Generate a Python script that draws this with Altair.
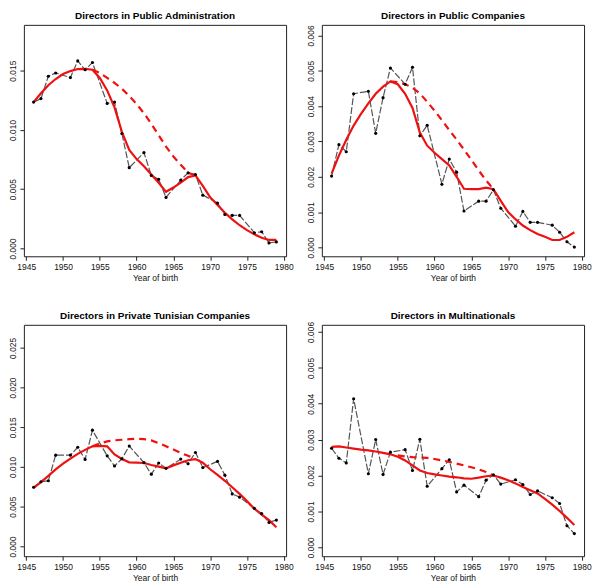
import altair as alt
import pandas as pd

# Observed years (multiples of 5 are absent in the source)
obs_years = [1946, 1947, 1948, 1949, 1951, 1952, 1953, 1954, 1956, 1957, 1958, 1959,
             1961, 1962, 1963, 1964, 1966, 1967, 1968, 1969, 1971, 1972, 1973, 1974,
             1976, 1977, 1978, 1979]
smooth_years = list(range(1946, 1980))
dashed_p1_years = list(range(1954, 1969))
dashed_p2_years = list(range(1954, 1969))
dashed_p3_years = list(range(1954, 1969))
dashed_p4_years = list(range(1955, 1969))

titles = ["Directors in Public Administration", "Directors in Public Companies",
          "Directors in Private Tunisian Companies", "Directors in Multinationals"]

# Panel 1: Public Administration
p1_obs = [0.01235, 0.01265, 0.01453, 0.01481, 0.01442, 0.01583, 0.01508, 0.01569,
          0.01224, 0.01235, 0.00970, 0.00682, 0.00809, 0.00616, 0.00583, 0.00431,
          0.00577, 0.00638, 0.00624, 0.00450, 0.00384, 0.00287, 0.00279, 0.00279,
          0.00133, 0.00141, 0.00047, 0.00055]
p1_smooth = [0.01235, 0.01310, 0.01378, 0.01430, 0.01472, 0.01497, 0.01514, 0.01515,
             0.01508, 0.01439, 0.01334, 0.01191, 0.00984, 0.00831, 0.00754, 0.00693,
             0.00624, 0.00555, 0.00478, 0.00514, 0.00555, 0.00602, 0.00616, 0.00528,
             0.00431, 0.00367, 0.00301, 0.00246, 0.00196, 0.00155, 0.00119, 0.00091,
             0.00072, 0.00072]
p1_dashed = [0.01508, 0.01481, 0.01439, 0.01398, 0.01348, 0.01287, 0.01218, 0.01141,
             0.01052, 0.00956, 0.00859, 0.00776, 0.00707, 0.00638, 0.00616]

# Panel 2: Public Companies
p2_obs = [0.00202, 0.00291, 0.00271, 0.00435, 0.00442, 0.00323, 0.00424, 0.00508,
          0.00462, 0.00510, 0.00316, 0.00346, 0.00179, 0.00250, 0.00213, 0.00103,
          0.00131, 0.00131, 0.00163, 0.00111, 0.00060, 0.00102, 0.00071, 0.00071,
          0.00063, 0.00043, 0.00016, 0.00001]
p2_smooth = [0.00209, 0.00260, 0.00305, 0.00345, 0.00378, 0.00408, 0.00435, 0.00455,
             0.00470, 0.00462, 0.00435, 0.00395, 0.00325, 0.00288, 0.00268, 0.00250,
             0.00232, 0.00200, 0.00166, 0.00165, 0.00165, 0.00169, 0.00165, 0.00132,
             0.00100, 0.00080, 0.00062, 0.00049, 0.00038, 0.00030, 0.00021, 0.00021,
             0.00030, 0.00043]
p2_dashed = [0.00470, 0.00468, 0.00462, 0.00452, 0.00436, 0.00412, 0.00387, 0.00360,
             0.00332, 0.00305, 0.00277, 0.00248, 0.00218, 0.00190, 0.00165]

# Panel 3: Private Tunisian Companies
p3_obs = [0.00744, 0.00814, 0.00826, 0.01149, 0.01149, 0.01248, 0.01095, 0.01463,
          0.01140, 0.01012, 0.01103, 0.01264, 0.01054, 0.00909, 0.01050, 0.00983,
          0.01099, 0.01041, 0.01182, 0.00992, 0.01070, 0.00897, 0.00661, 0.00620,
          0.00479, 0.00413, 0.00302, 0.00331]
p3_smooth = [0.00736, 0.00810, 0.00888, 0.00970, 0.01041, 0.01105, 0.01165, 0.01215,
             0.01260, 0.01265, 0.01260, 0.01157, 0.01100, 0.01058, 0.01054, 0.01050,
             0.01025, 0.01004, 0.00983, 0.01020, 0.01054, 0.01085, 0.01099, 0.01054,
             0.00971, 0.00900, 0.00826, 0.00745, 0.00661, 0.00570, 0.00475, 0.00400,
             0.00330, 0.00240]
p3_dashed = [0.01260, 0.01295, 0.01322, 0.01335, 0.01343, 0.01350, 0.01355, 0.01350,
             0.01335, 0.01300, 0.01260, 0.01220, 0.01178, 0.01140, 0.01099]

# Panel 4: Multinationals
p4_obs = [0.00276, 0.00248, 0.00235, 0.00414, 0.00205, 0.00300, 0.00203, 0.00265,
          0.00272, 0.00214, 0.00301, 0.00170, 0.00219, 0.00244, 0.00154, 0.00173,
          0.00141, 0.00187, 0.00202, 0.00176, 0.00188, 0.00175, 0.00147, 0.00157,
          0.00138, 0.00122, 0.00060, 0.00038]
p4_smooth = [0.00280, 0.00281, 0.00278, 0.00275, 0.00272, 0.00270, 0.00267, 0.00263,
             0.00259, 0.00252, 0.00242, 0.00228, 0.00214, 0.00207, 0.00203, 0.00200,
             0.00197, 0.00195, 0.00192, 0.00191, 0.00194, 0.00198, 0.00200, 0.00194,
             0.00187, 0.00178, 0.00168, 0.00159, 0.00150, 0.00135, 0.00119, 0.00101,
             0.00082, 0.00062]
p4_dashed = [0.00256, 0.00253, 0.00251, 0.00250, 0.00249, 0.00246, 0.00242, 0.00238,
             0.00233, 0.00228, 0.00223, 0.00217, 0.00210, 0.00200]

y_domains = [[-0.00066, 0.01887], [-0.00025, 0.0063], [-0.00124, 0.0279], [-0.00025, 0.0062]]
y_ticks = [[0.0, 0.005, 0.010, 0.015],
           [0.0, 0.001, 0.002, 0.003, 0.004, 0.005, 0.006],
           [0.0, 0.005, 0.010, 0.015, 0.020, 0.025],
           [0.0, 0.001, 0.002, 0.003, 0.004, 0.005, 0.006]]
x_ticks = [1945, 1950, 1955, 1960, 1965, 1970, 1975, 1980]

FONT = "Liberation Sans"
W, H = 264, 233


def panel(title, obs, smooth, dyears, dashed, ydom, yt, toff):
    d_obs = pd.DataFrame({"year": obs_years, "value": obs})
    d_sm = pd.DataFrame({"year": smooth_years, "value": smooth})
    d_da = pd.DataFrame({"year": dyears, "value": dashed})
    xs = alt.X("year:Q", scale=alt.Scale(domain=[1944.68, 1980.32], nice=False, zero=False),
               axis=alt.Axis(values=x_ticks, format="d", title="Year of birth"))
    ys = alt.Y("value:Q", scale=alt.Scale(domain=ydom, nice=False, zero=False),
               axis=alt.Axis(values=yt, format=".3f", title=None, labelAngle=-90,
                             labelAlign="center", labelBaseline="bottom"))
    gray = alt.Chart(d_obs).mark_line(color="#555555", strokeWidth=1.2,
                                       strokeDash=[7, 2]).encode(x=xs, y=ys)
    pts = alt.Chart(d_obs).mark_circle(color="black", size=10, opacity=1).encode(x=xs, y=ys)
    red = alt.Chart(d_sm).mark_line(color="#ee1111", strokeWidth=2.2).encode(x=xs, y=ys)
    redd = alt.Chart(d_da).mark_line(color="#ee1111", strokeWidth=2.2,
                                      strokeDash=[7, 5]).encode(x=xs, y=ys)
    return alt.layer(gray, redd, red, pts).properties(
        width=W, height=H,
        title=alt.TitleParams(title, fontSize=10, fontWeight="bold", font=FONT,
                              offset=toff, anchor="middle", frame="group"))


panels = [
    panel(titles[0], p1_obs, p1_smooth, dashed_p1_years, p1_dashed, y_domains[0], y_ticks[0], 4),
    panel(titles[1], p2_obs, p2_smooth, dashed_p2_years, p2_dashed, y_domains[1], y_ticks[1], 4),
    panel(titles[2], p3_obs, p3_smooth, dashed_p3_years, p3_dashed, y_domains[2], y_ticks[2], 4),
    panel(titles[3], p4_obs, p4_smooth, dashed_p4_years, p4_dashed, y_domains[3], y_ticks[3], 0),
]

chart = alt.concat(*panels, columns=2, spacing={"row": 69, "column": 36},
                   bounds="flush").properties(
    padding={"left": 0, "top": 0, "right": 0, "bottom": 0}
).configure_view(stroke="#222222", strokeWidth=1).configure_axis(
    grid=False, domain=False, tickColor="#222222", tickSize=4, labelPadding=2,
    labelFont=FONT, labelFontSize=8.5, labelColor="#111111",
    titleFont=FONT, titleFontSize=8.5, titleFontWeight="normal", titleColor="#111111",
    titlePadding=3
)

chart.save("out.html", embed_options={"renderer": "svg", "actions": False})
